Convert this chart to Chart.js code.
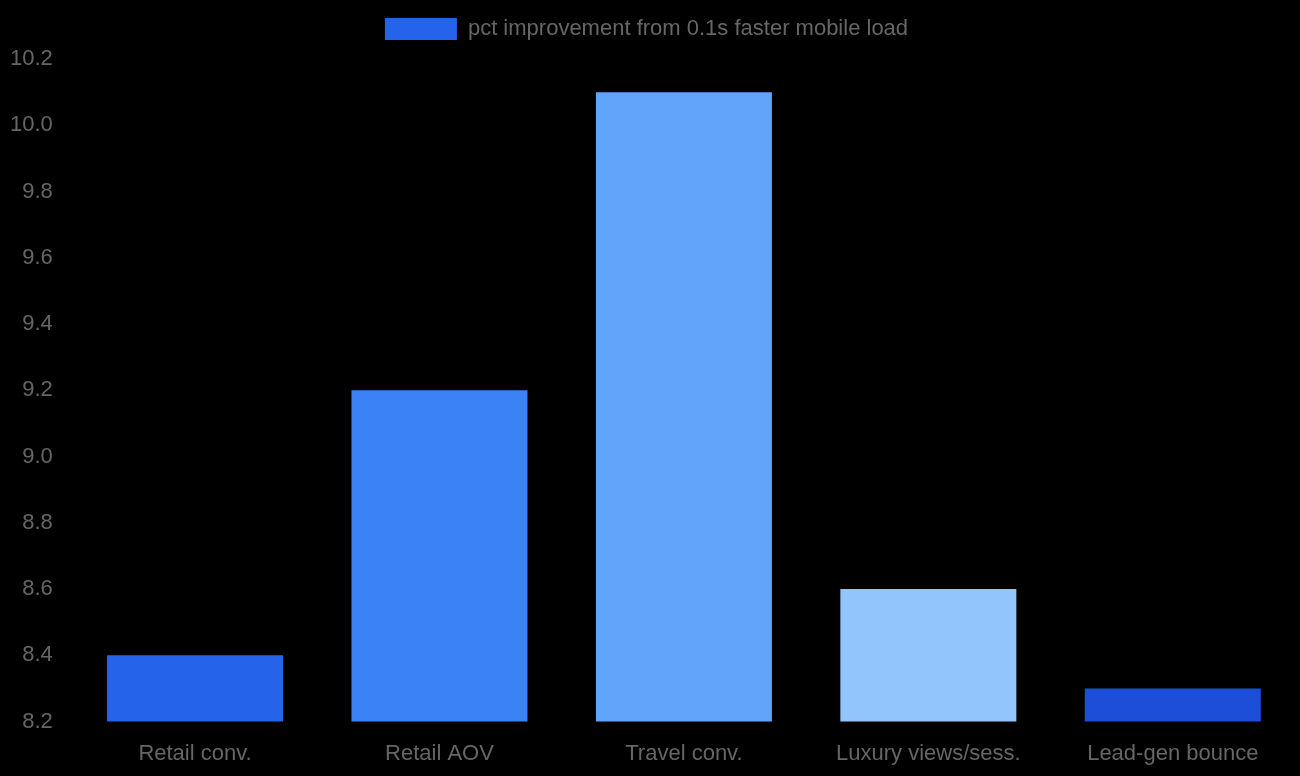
<!DOCTYPE html>
<html lang="en">
  <head>
    <meta charset="UTF-8" />
    <title>Mobile load speed</title>
    <script src="https://cdn.jsdelivr.net/npm/chart.js"></script>
    <style>
      html, body { margin: 0; padding: 0; background: #000; }
      #wrap { width: 1300px; height: 776px; }
    </style>
  </head>
  <body>
    <div id="wrap"><canvas id="speedChart"></canvas></div>
    <script>
      const categories = ["Retail conv.", "Retail AOV", "Travel conv.", "Luxury views/sess.", "Lead-gen bounce"];
      const improvement = [8.4, 9.2, 10.1, 8.6, 8.3];
      const barColors = ["#2563eb", "#3b82f6", "#60a5fa", "#93c5fd", "#1d4ed8"];

      Chart.defaults.font.family = "'Liberation Sans', Arial, sans-serif";
      Chart.defaults.font.size = 22;
      Chart.defaults.color = "#666";

      // a bit more room under the legend
      const legendGap = {
        id: "legendGap",
        beforeInit(chart) {
          const fit = chart.legend.fit;
          chart.legend.fit = function () {
            fit.bind(chart.legend)();
            this.height += 9;
          };
        },
      };

      const ctx = document.getElementById("speedChart").getContext("2d");
      new Chart(ctx, {
        type: "bar",
        data: {
          labels: categories,
          datasets: [
            {
              label: "pct improvement from 0.1s faster mobile load",
              data: improvement,
              backgroundColor: barColors,
            },
          ],
        },
        options: {
          responsive: true,
          maintainAspectRatio: false,
          animation: false,
          layout: { padding: { left: -2, right: 5, top: 8, bottom: -2 } },
          plugins: {
            legend: { labels: { boxWidth: 72, boxHeight: 22 } },
          },
          scales: {
            y: {
              min: 8.2,
              max: 10.2,
              ticks: { stepSize: 0.2, padding: 12, callback: (v) => v.toFixed(1) },
              grid: { color: "rgba(0,0,0,0.1)" },
            },
            x: {
              ticks: { padding: 11 },
              grid: { color: "rgba(0,0,0,0.1)" },
            },
          },
        },
        plugins: [legendGap],
      });
    </script>
  </body>
</html>
